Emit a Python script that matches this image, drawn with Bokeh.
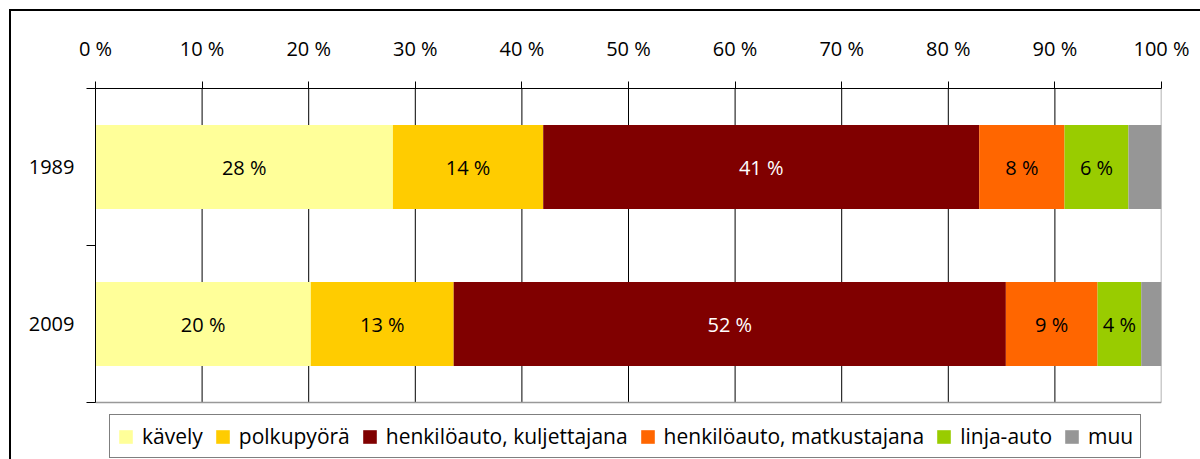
from bokeh.plotting import figure
from bokeh.models import (ColumnDataSource, FixedTicker, Range1d, Legend, LegendItem)
from bokeh.core.properties import value
from bokeh.embed import file_html
from bokeh.resources import INLINE

years = ["1989", "2009"]
series = ["kävely", "polkupyörä", "henkilöauto, kuljettajana",
          "henkilöauto, matkustajana", "linja-auto", "muu"]
v1989 = [27.9, 14.1, 40.9, 8.0, 6.0, 3.1]
v2009 = [20.2, 13.4, 51.8, 8.6, 4.1, 1.9]
colors = ["#FFFF99", "#FFCC00", "#800000", "#FF6600", "#99CC00", "#969696"]
label_colors = ["black", "black", "white", "black", "black", None]
x_ticks = [0, 10, 20, 30, 40, 50, 60, 70, 80, 90, 100]
x_tick_labels = [f"{t} %" for t in x_ticks]

FONT = "Open Sans"
FS = "20px"
LEG_FS = "21px"

N = len(years)
X_MAX = 100
# y positions: 1989 on top
ypos = {"1989": 1.5, "2009": 0.5}
keys = [f"s{i}" for i in range(len(series))]
data = {"y": [ypos[y] for y in years]}
for i, k in enumerate(keys):
    data[k] = [v1989[i], v2009[i]]
source = ColumnDataSource(data)

# frame extends below the category area to host the legend (157 px per category)
p = figure(width=1200, height=459, output_backend="svg", toolbar_location=None,
           x_range=Range1d(0, X_MAX), y_range=Range1d(-57 / 157, N),
           x_axis_location="above",
           min_border_left=95, min_border_right=39, min_border_top=88,
           min_border_bottom=0)
p.background_fill_color = "white"
p.border_fill_alpha = 0
p.outline_line_color = None
p.styles = {"box-shadow": "inset 9px 9px 0 0 white, inset 11px 11px 0 0 black",
            "background-color": "white"}

# vertical gridlines inside the plot area
grid_x = x_ticks[:-1]
p.segment(x0=grid_x, y0=[0] * len(grid_x), x1=grid_x, y1=[N] * len(grid_x),
          line_color="black", line_width=1)
# plot area border (right and bottom, grey)
p.segment(x0=[X_MAX, 0], y0=[0, 0], x1=[X_MAX, X_MAX], y1=[N, 0],
          line_color="#999999", line_width=1.5)

renderers = p.hbar_stack(keys, y="y", height=0.535, color=colors, source=source,
                         line_color=None)

# data labels
lx, ly, lt, lc = [], [], [], []
for y, vals in (("1989", v1989), ("2009", v2009)):
    cum = 0
    for i, v in enumerate(vals):
        if label_colors[i] is not None:
            lx.append(cum + v / 2)
            ly.append(ypos[y])
            lt.append(f"{round(v)} %")
            lc.append(label_colors[i])
        cum += v
lsrc = ColumnDataSource(dict(x=lx, y=ly, text=lt, color=lc))
p.text(x="x", y="y", text="text", text_color="color", source=lsrc,
       text_align="center", text_baseline="middle",
       text_font=value(FONT), text_font_size=value(FS))

# x axis (top)
xa = p.xaxis[0]
xa.ticker = FixedTicker(ticks=x_ticks, minor_ticks=[])
xa.major_label_overrides = {t: l for t, l in zip(x_ticks, x_tick_labels)}
xa.major_tick_out = 7
xa.major_tick_in = 0
xa.minor_tick_out = 0
xa.axis_line_color = "black"
xa.major_tick_line_color = "black"
xa.major_label_text_font = FONT
xa.major_label_text_font_size = FS
xa.major_label_text_color = "black"
xa.major_label_standoff = 20

# y axis
ya = p.yaxis[0]
ya.bounds = (0, N)
ya.ticker = FixedTicker(ticks=[0.5, 1.5], minor_ticks=[0, 1, 2])
ya.major_label_overrides = {ypos[y]: y for y in years}
ya.major_tick_out = 0
ya.major_tick_in = 0
ya.minor_tick_out = 9
ya.minor_tick_in = 0
ya.minor_tick_line_color = "black"
ya.axis_line_color = "black"
ya.major_label_text_font = FONT
ya.major_label_text_font_size = FS
ya.major_label_text_color = "black"
ya.major_label_standoff = 12

p.xgrid.grid_line_color = None
p.ygrid.grid_line_color = None

items = [LegendItem(label=s, renderers=[r]) for s, r in zip(series, renderers)]
legend = Legend(items=items, orientation="horizontal", location=(14, 1),
                label_text_font=FONT, label_text_font_size=LEG_FS,
                label_text_color="black",
                glyph_width=17, glyph_height=17, label_standoff=8, spacing=11,
                padding=7, margin=0, border_line_color="black",
                border_line_width=1, background_fill_color="white",
                background_fill_alpha=1)
p.add_layout(legend, "center")

open("out.html", "w").write(file_html(p, INLINE))
